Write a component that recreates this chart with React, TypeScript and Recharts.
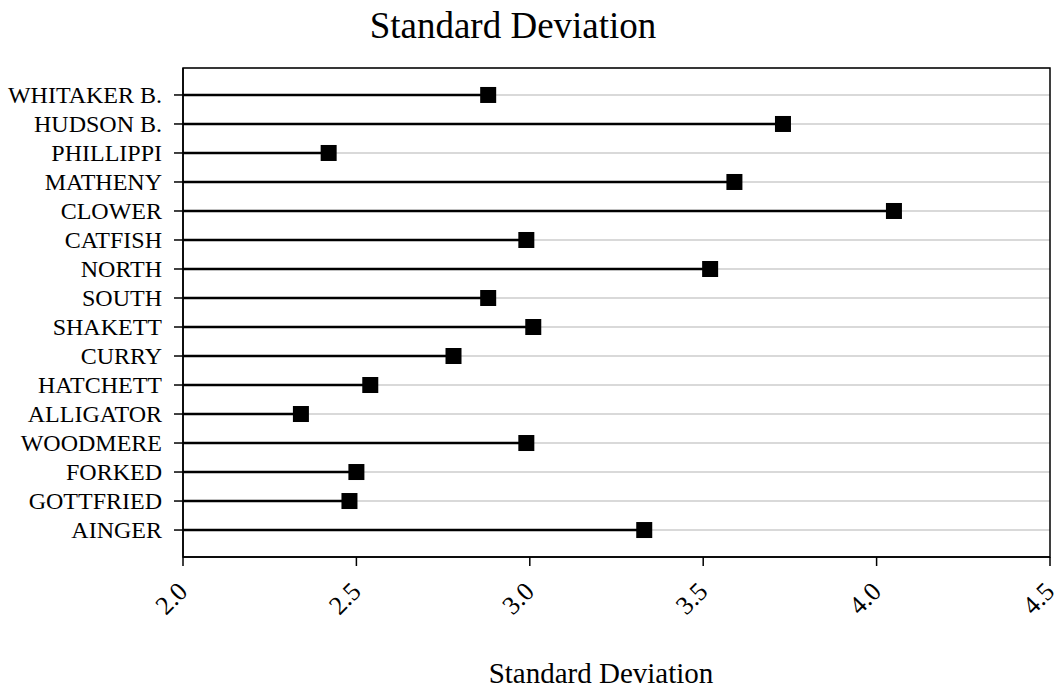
import React from 'react';
import {
  ScatterChart,
  Scatter,
  XAxis,
  YAxis,
  CartesianGrid,
  ReferenceLine,
  ReferenceArea,
} from 'recharts';

// Sites listed top-to-bottom as in the chart
const sites = [
  'WHITAKER B.',
  'HUDSON B.',
  'PHILLIPPI',
  'MATHENY',
  'CLOWER',
  'CATFISH',
  'NORTH',
  'SOUTH',
  'SHAKETT',
  'CURRY',
  'HATCHETT',
  'ALLIGATOR',
  'WOODMERE',
  'FORKED',
  'GOTTFRIED',
  'AINGER',
];

const stdDev = [2.88, 3.73, 2.42, 3.59, 4.05, 2.99, 3.52, 2.88, 3.01, 2.78, 2.54, 2.34, 2.99, 2.5, 2.48, 3.33];

const xTicks = [2.0, 2.5, 3.0, 3.5, 4.0, 4.5];
const xDomain: [number, number] = [2.0, 4.5];
const yDomain: [number, number] = [-0.93, 15.93];

const title = 'Standard Deviation';
const xLabel = 'Standard Deviation';

const data = sites.map((site, i) => ({
  site,
  value: stdDev[i],
  pos: sites.length - 1 - i,
}));
const yTicks = data.map((d) => d.pos).sort((a, b) => a - b);
const posToName: Record<number, string> = {};
data.forEach((d) => {
  posToName[d.pos] = d.site;
});

const FONT = '"Liberation Serif", "Times New Roman", serif';

const YTick = (props: any) => {
  const { x, y, payload } = props;
  return (
    <text x={x} y={y} dy="0.33em" textAnchor="end" fontSize={24} fontFamily={FONT} fill="#000">
      {posToName[payload.value]}
    </text>
  );
};

const XTick = (props: any) => {
  const { x, y, payload } = props;
  const ax = x + 6;
  const ay = y + 27;
  return (
    <text
      x={ax}
      y={ay}
      textAnchor="end"
      transform={`rotate(-45, ${ax}, ${ay})`}
      fontSize={26}
      fontFamily={FONT}
      fill="#000"
    >
      {Number(payload.value).toFixed(1)}
    </text>
  );
};

const Square = (props: any) => {
  const { cx, cy } = props;
  return <rect x={cx - 8} y={cy - 8} width={16} height={16} fill="#000" />;
};

export default function App() {
  return (
    <div style={{ position: 'absolute', left: 0, top: 0, width: 1060, height: 690, background: '#fff' }}>
      <ScatterChart width={1060} height={690} margin={{ top: 68, right: 10, bottom: 0, left: 0 }}>
        <CartesianGrid horizontal vertical={false} stroke="#cccccc" strokeWidth={1.5} />
        <XAxis
          type="number"
          dataKey="value"
          domain={xDomain}
          ticks={xTicks}
          allowDataOverflow
          height={133}
          tickSize={9}
          tickMargin={0}
          tick={<XTick />}
          axisLine={{ stroke: '#000', strokeWidth: 1.5 }}
          tickLine={{ stroke: '#000', strokeWidth: 1.5 }}
        />
        <YAxis
          type="number"
          dataKey="pos"
          domain={yDomain}
          ticks={yTicks}
          allowDataOverflow
          width={183}
          tickSize={9}
          tickMargin={12}
          tick={<YTick />}
          axisLine={{ stroke: '#000', strokeWidth: 1.5 }}
          tickLine={{ stroke: '#000', strokeWidth: 1.5 }}
          interval={0}
        />
        <ReferenceArea
          x1={xDomain[0]}
          x2={xDomain[1]}
          y1={yDomain[0]}
          y2={yDomain[1]}
          fill="none"
          fillOpacity={0}
          stroke="#000"
          strokeWidth={1.5}
          ifOverflow="visible"
        />
        {data.map((d) => (
          <ReferenceLine
            key={d.site}
            segment={[
              { x: xDomain[0], y: d.pos },
              { x: d.value, y: d.pos },
            ]}
            stroke="#000"
            strokeWidth={2.5}
            ifOverflow="visible"
          />
        ))}
        <Scatter data={data} shape={<Square />} isAnimationActive={false} />
      </ScatterChart>
      <svg
        width={1060}
        height={690}
        style={{ position: 'absolute', left: 0, top: 0, pointerEvents: 'none' }}
      >
        <text x={513} y={38} textAnchor="middle" fontSize={37} fontFamily={FONT} fill="#000">
          {title}
        </text>
        <text x={601} y={683} textAnchor="middle" fontSize={29} fontFamily={FONT} fill="#000">
          {xLabel}
        </text>
      </svg>
    </div>
  );
}
